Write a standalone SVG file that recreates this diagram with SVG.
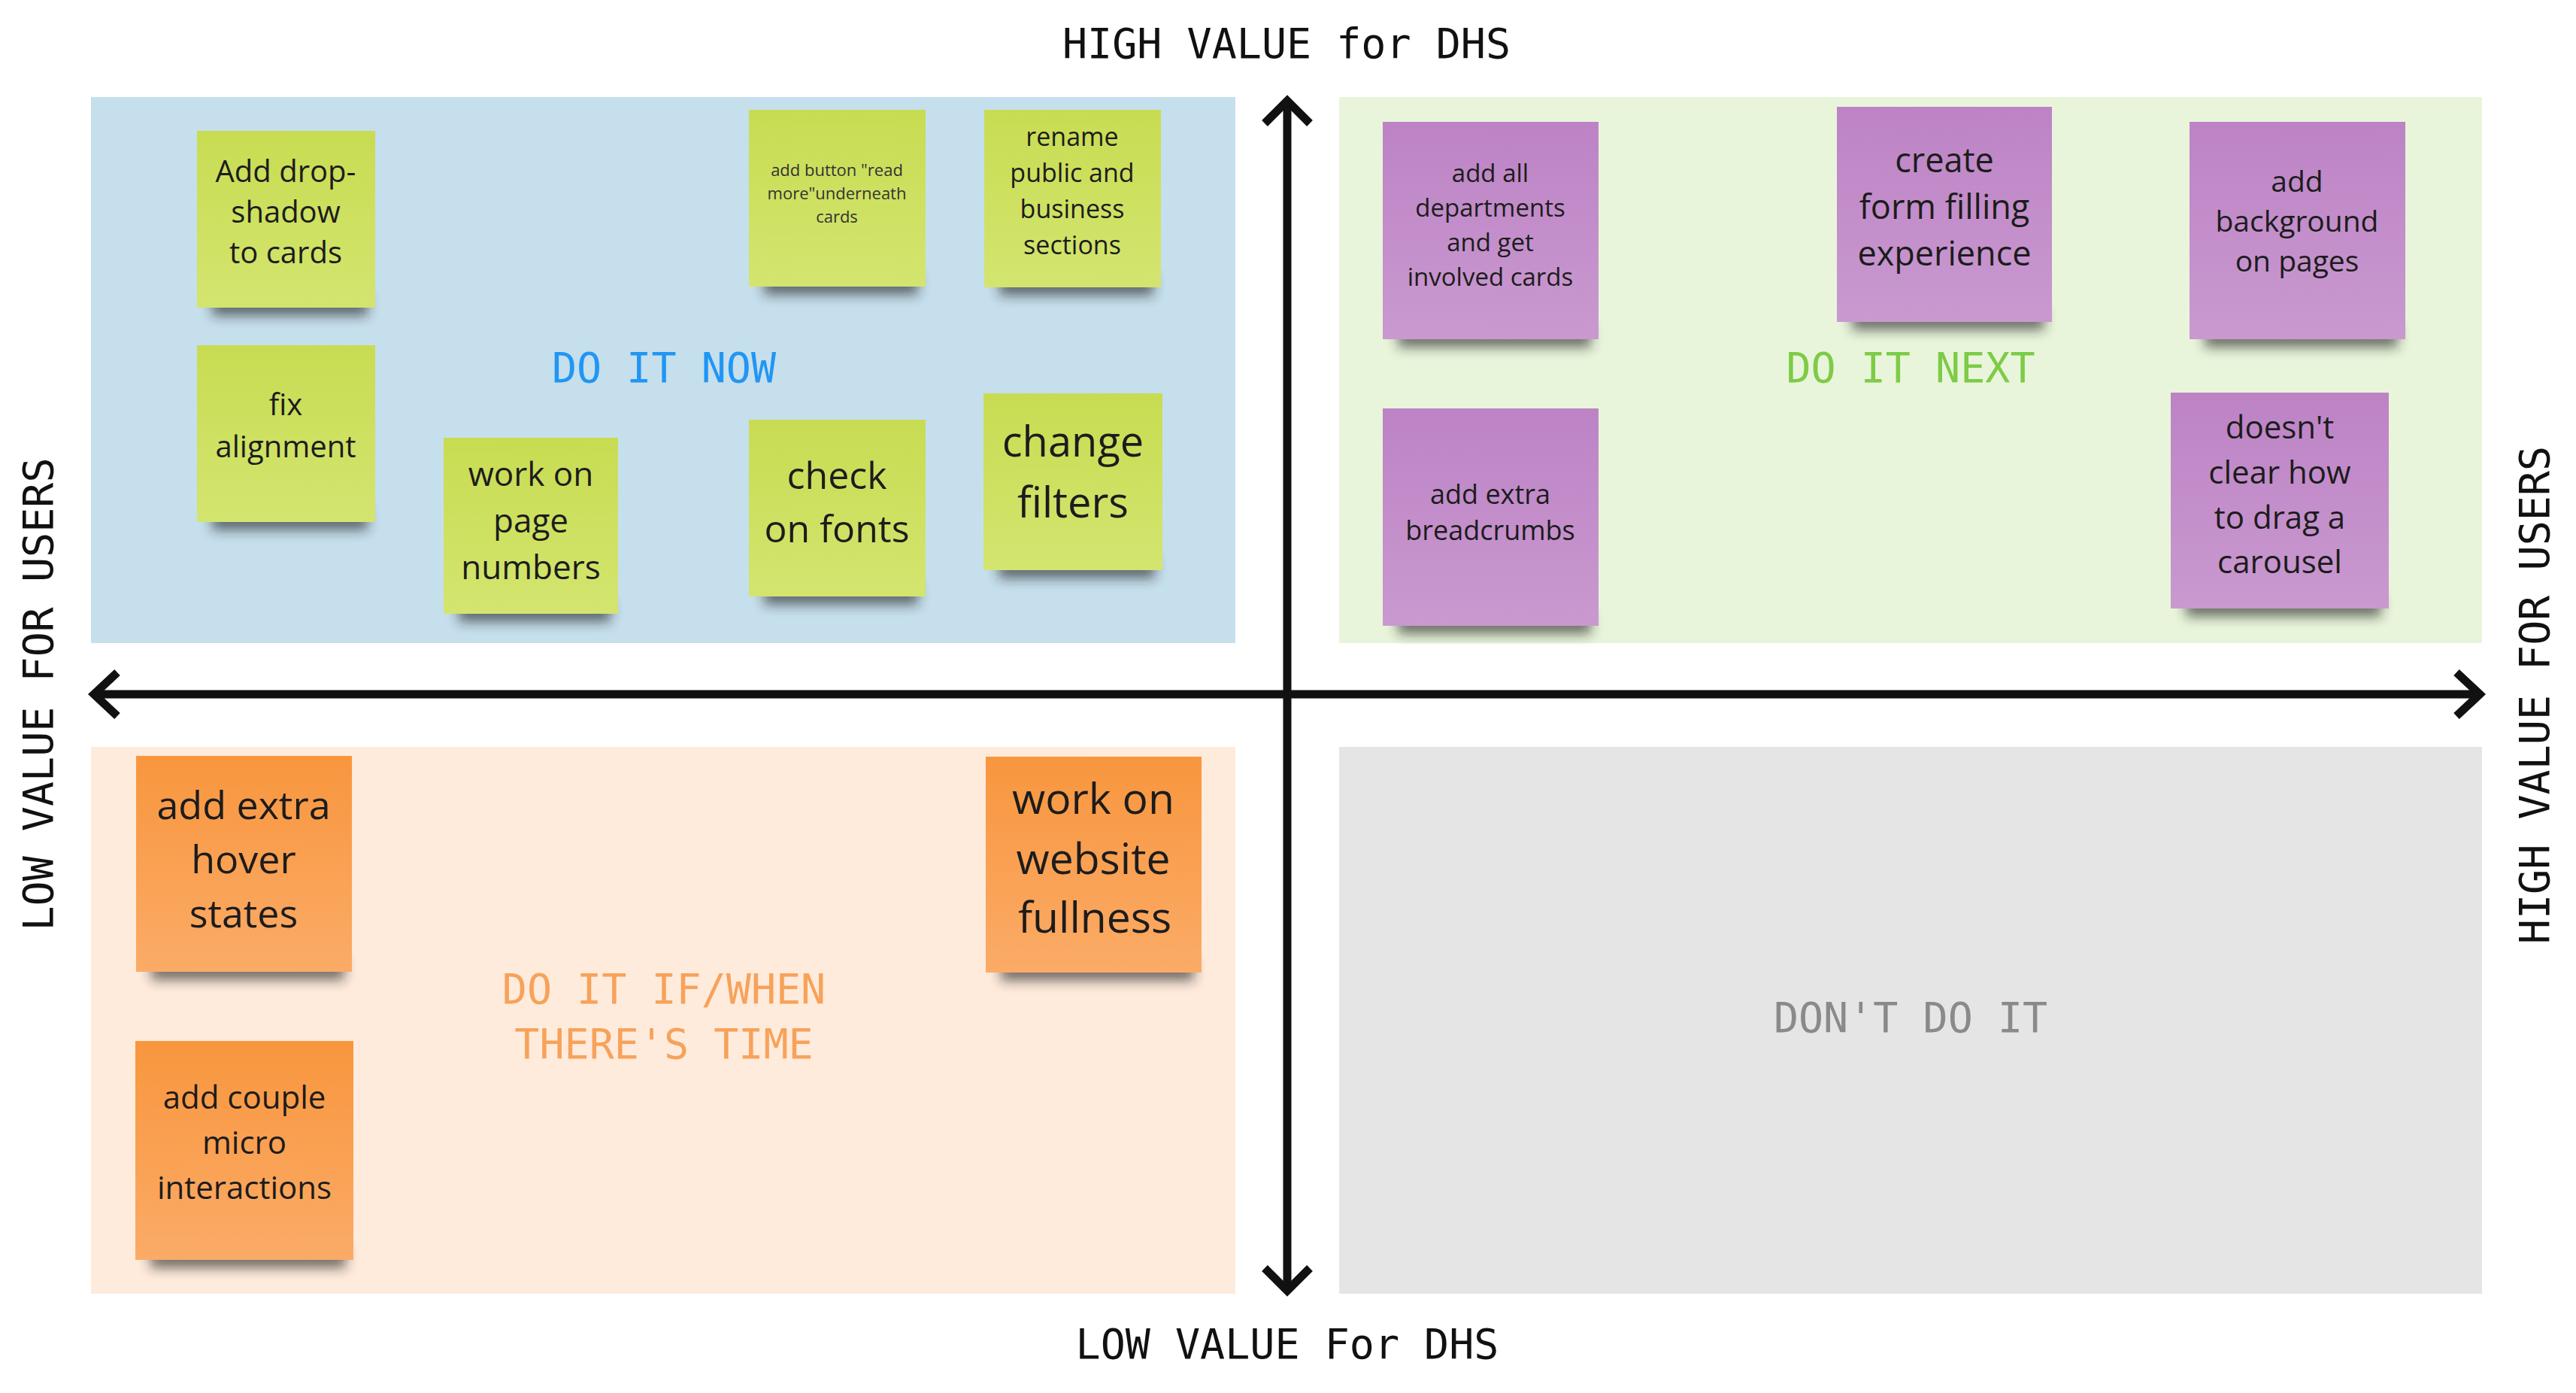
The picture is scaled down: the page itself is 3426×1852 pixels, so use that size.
<svg xmlns="http://www.w3.org/2000/svg" width="3426" height="1852" viewBox="0 0 3426 1852">
<defs>
<linearGradient id="gY" x1="0" y1="0" x2="0" y2="1"><stop offset="0" stop-color="#C8DC52"/><stop offset="1" stop-color="#D3E56F"/></linearGradient>
<linearGradient id="gP" x1="0" y1="0" x2="0" y2="1"><stop offset="0" stop-color="#BD83C5"/><stop offset="1" stop-color="#C999D0"/></linearGradient>
<linearGradient id="gO" x1="0" y1="0" x2="0" y2="1"><stop offset="0" stop-color="#F8963E"/><stop offset="1" stop-color="#FBAB67"/></linearGradient>
<filter id="blur" x="-30%" y="-100%" width="160%" height="300%"><feGaussianBlur stdDeviation="8"/></filter>
</defs>
<style>
.mono{font-family:"DejaVu Sans Mono","Liberation Mono",monospace;font-size:55px;text-anchor:middle}
.note text{font-family:"Open Sans","Noto Sans",sans-serif;fill:#1c1c1c;text-anchor:middle}
.sh{fill:#1a1a1a;opacity:.6;filter:url(#blur)}
.axis{stroke:#111;stroke-width:11;fill:none;stroke-linejoin:miter}
</style>
<rect width="3426" height="1852" fill="#ffffff"/>
<g id="quadrants">
<rect x="121" y="129" width="1522" height="726" fill="#C6DFEC"/>
<rect x="1781" y="129" width="1520" height="726" fill="#E8F5DB"/>
<rect x="121" y="993" width="1522" height="727" fill="#FEEBDC"/>
<rect x="1781" y="993" width="1520" height="727" fill="#E5E5E5"/>
</g>
<g id="labels">
<text class="mono" x="1711" y="77" fill="#111">HIGH VALUE for DHS</text>
<text class="mono" x="1712" y="1806" fill="#111">LOW VALUE For DHS</text>
<text class="mono" transform="translate(70 923) rotate(-90)" fill="#111">LOW VALUE FOR USERS</text>
<text class="mono" transform="translate(3390 924) rotate(-90)" fill="#111">HIGH VALUE FOR USERS</text>
<text class="mono" x="883" y="508" fill="#2196F3">DO IT NOW</text>
<text class="mono" x="2541" y="508" fill="#7DCB46">DO IT NEXT</text>
<text class="mono" x="883" y="1334" fill="#F7A25A">DO IT IF/WHEN</text>
<text class="mono" x="883" y="1407" fill="#F7A25A">THERE'S TIME</text>
<text class="mono" x="2541" y="1372" fill="#8A8A8A">DON'T DO IT</text>
</g>
<g id="connectors">
<line class="axis" x1="1712" y1="136" x2="1712" y2="1712"/>
<line class="axis" x1="128" y1="923" x2="3295" y2="923"/>
<path class="axis" d="M1682 164 L1712 134 L1742 164"/>
<path class="axis" d="M1682 1686 L1712 1716 L1742 1686"/>
<path class="axis" d="M156 894 L125 923 L156 952"/>
<path class="axis" d="M3267 894 L3298 923 L3267 952"/>
</g>
<g id="note1" class="note"><rect class="sh" x="282" y="390" width="207" height="30"/><rect x="262" y="174" width="237" height="235" fill="url(#gY)"/>
<text font-size="40"><tspan x="380" y="242">Add drop-</tspan><tspan x="380" y="296">shadow</tspan><tspan x="380" y="350">to cards</tspan></text></g>
<g id="note2" class="note"><rect class="sh" x="1016" y="362" width="205" height="30"/><rect x="996" y="146" width="235" height="235" fill="url(#gY)"/>
<text font-size="22" style="fill:#333"><tspan x="1113" y="234">add button "read</tspan><tspan x="1113" y="265">more"underneath</tspan><tspan x="1113" y="296">cards</tspan></text></g>
<g id="note3" class="note"><rect class="sh" x="1329" y="363" width="205" height="30"/><rect x="1309" y="146" width="235" height="236" fill="url(#gY)"/>
<text font-size="34"><tspan x="1426" y="194">rename</tspan><tspan x="1426" y="242">public and</tspan><tspan x="1426" y="290">business</tspan><tspan x="1426" y="338">sections</tspan></text></g>
<g id="note4" class="note"><rect class="sh" x="282" y="675" width="207" height="30"/><rect x="262" y="459" width="237" height="235" fill="url(#gY)"/>
<text font-size="40"><tspan x="380" y="552">fix</tspan><tspan x="380" y="608">alignment</tspan></text></g>
<g id="note5" class="note"><rect class="sh" x="610" y="797" width="202" height="30"/><rect x="590" y="582" width="232" height="234" fill="url(#gY)"/>
<text font-size="44"><tspan x="706" y="646">work on</tspan><tspan x="706" y="708">page</tspan><tspan x="706" y="770">numbers</tspan></text></g>
<g id="note6" class="note"><rect class="sh" x="1016" y="774" width="205" height="30"/><rect x="996" y="558" width="235" height="235" fill="url(#gY)"/>
<text font-size="50"><tspan x="1113" y="650">check</tspan><tspan x="1113" y="721">on fonts</tspan></text></g>
<g id="note7" class="note"><rect class="sh" x="1328" y="739" width="208" height="30"/><rect x="1308" y="523" width="238" height="235" fill="url(#gY)"/>
<text font-size="56"><tspan x="1427" y="607">change</tspan><tspan x="1427" y="688">filters</tspan></text></g>
<g id="note8" class="note"><rect class="sh" x="1859" y="432" width="257" height="30"/><rect x="1839" y="162" width="287" height="289" fill="url(#gP)"/>
<text font-size="33"><tspan x="1982" y="242">add all</tspan><tspan x="1982" y="288">departments</tspan><tspan x="1982" y="334">and get</tspan><tspan x="1982" y="380">involved cards</tspan></text></g>
<g id="note9" class="note"><rect class="sh" x="2463" y="409" width="256" height="30"/><rect x="2443" y="142" width="286" height="286" fill="url(#gP)"/>
<text font-size="45"><tspan x="2586" y="229">create</tspan><tspan x="2586" y="291">form filling</tspan><tspan x="2586" y="353">experience</tspan></text></g>
<g id="note10" class="note"><rect class="sh" x="2932" y="432" width="257" height="30"/><rect x="2912" y="162" width="287" height="289" fill="url(#gP)"/>
<text font-size="39"><tspan x="3055" y="255">add</tspan><tspan x="3055" y="308">background</tspan><tspan x="3055" y="361">on pages</tspan></text></g>
<g id="note11" class="note"><rect class="sh" x="1859" y="813" width="257" height="30"/><rect x="1839" y="543" width="287" height="289" fill="url(#gP)"/>
<text font-size="36"><tspan x="1982" y="670">add extra</tspan><tspan x="1982" y="718">breadcrumbs</tspan></text></g>
<g id="note12" class="note"><rect class="sh" x="2907" y="790" width="260" height="30"/><rect x="2887" y="522" width="290" height="287" fill="url(#gP)"/>
<text font-size="42"><tspan x="3032" y="583">doesn't</tspan><tspan x="3032" y="643">clear how</tspan><tspan x="3032" y="703">to drag a</tspan><tspan x="3032" y="762">carousel</tspan></text></g>
<g id="note13" class="note"><rect class="sh" x="201" y="1273" width="257" height="30"/><rect x="181" y="1005" width="287" height="287" fill="url(#gO)"/>
<text font-size="52"><tspan x="324" y="1089">add extra</tspan><tspan x="324" y="1161">hover</tspan><tspan x="324" y="1233">states</tspan></text></g>
<g id="note14" class="note"><rect class="sh" x="200" y="1656" width="260" height="30"/><rect x="180" y="1384" width="290" height="291" fill="url(#gO)"/>
<text font-size="42"><tspan x="325" y="1474">add couple</tspan><tspan x="325" y="1534">micro</tspan><tspan x="325" y="1594">interactions</tspan></text></g>
<g id="note15" class="note"><rect class="sh" x="1331" y="1274" width="257" height="30"/><rect x="1311" y="1006" width="287" height="287" fill="url(#gO)"/>
<text font-size="57"><tspan x="1454" y="1082">work on</tspan><tspan x="1454" y="1162">website</tspan><tspan x="1456" y="1240">fullness</tspan></text></g>
</svg>
